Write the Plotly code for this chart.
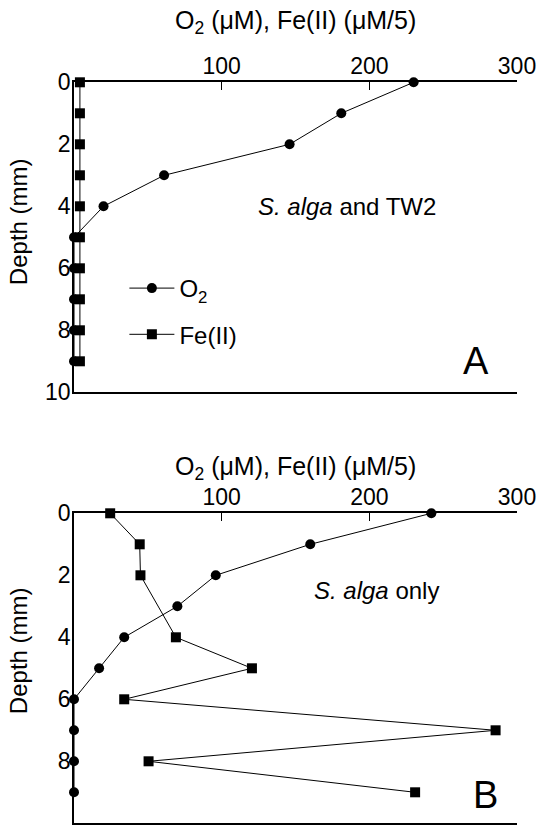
import plotly.graph_objects as go

# ---- data ----
depth = [0, 1, 2, 3, 4, 5, 6, 7, 8, 9]
o2_a = [230, 181, 146, 61, 20, 0, 0, 0, 0, 0]
fe_a = [4, 4, 4, 4, 4, 4, 4, 4, 4, 4]
o2_b = [242, 160, 96, 70, 34, 17, 0, 0, 0, 0]
fe_b_depth = [0, 1, 2, 4, 5, 6, 7, 8, 9]
fe_b = [24.5, 44.5, 45, 69, 120.5, 34, 285.5, 50.5, 231]
x_ticks = [100, 200, 300]
y_ticks = [0, 2, 4, 6, 8, 10]
right_ticks = [2, 4, 6, 8]
x_title = "O<sub>2</sub> (\u03bcM), Fe(II) (\u03bcM/5)"
y_title = "Depth (mm)"
label_a = "<i>S. alga</i> and TW2"
label_b = "<i>S. alga</i> only"

FONT = "Liberation Sans, Arial, sans-serif"
W, H = 540, 833
OFF = 0
def py(win_y):
    return (H - (win_y - OFF)) / H

dom_a = [py(392.3), py(82.3)]
dom_b = [py(823.3), py(513.3)]
L, R = 73.5, 22.5
PW = W - L - R
def px(win_x):
    return (win_x - OFF - L) / PW

fig = go.Figure()
line = dict(color="black", width=1)
circ = dict(symbol="circle", size=10, color="black")
sq = dict(symbol="square", size=10, color="black")

fig.add_trace(go.Scatter(x=o2_a, y=depth, mode="lines+markers", name="O<sub>2</sub>",
                         line=line, marker=circ, xaxis="x", yaxis="y", legendgroup="a",
                         cliponaxis=False))
fig.add_trace(go.Scatter(x=fe_a, y=depth, mode="lines+markers", name="Fe(II)",
                         line=line, marker=sq, xaxis="x", yaxis="y", legendgroup="b",
                         cliponaxis=False))
fig.add_trace(go.Scatter(x=o2_b, y=depth, mode="lines+markers", showlegend=False,
                         line=line, marker=circ, xaxis="x2", yaxis="y2", cliponaxis=False))
fig.add_trace(go.Scatter(x=fe_b, y=fe_b_depth, mode="lines+markers", showlegend=False,
                         line=line, marker=sq, xaxis="x2", yaxis="y2", cliponaxis=False))

def xax(anchor, standoff):
    return dict(range=[0, 300], side="top", anchor=anchor, tickvals=x_ticks,
                ticks="inside", ticklen=8, tickwidth=1, tickcolor="black",
                showline=True, linecolor="black", linewidth=1.5, mirror=True,
                showgrid=False, zeroline=False, automargin=False,
                tickfont=dict(family=FONT, size=23, color="black"),
                ticklabelstandoff=standoff)

def yax(anchor, dom):
    return dict(range=[10, 0], domain=dom, anchor=anchor, tickvals=y_ticks,
                ticks="", showline=True, linecolor="black", linewidth=1.5,
                showgrid=False, zeroline=False, automargin=False,
                tickfont=dict(family=FONT, size=23, color="black"),
                ticklabelstandoff=-3)

def yright(over, anchor):
    return dict(range=[10, 0], overlaying=over, anchor=anchor, side="right",
                tickvals=right_ticks, ticks="inside", ticklen=8, tickwidth=1,
                tickcolor="black", showticklabels=False, showline=True,
                linecolor="black", linewidth=1, showgrid=False, zeroline=False,
                automargin=False)

fig.update_layout(
    width=W, height=H, template="none",
    paper_bgcolor="white", plot_bgcolor="white",
    margin=dict(l=L, r=R, t=0, b=0),
    font=dict(family=FONT, size=24, color="black"),
    xaxis=xax("y", -3), yaxis=yax("x", dom_a),
    xaxis2=xax("y2", -3), yaxis2=yax("x2", dom_b),
    yaxis3=yright("y", "x"), yaxis4=yright("y2", "x2"),
    showlegend=True,
    legend=dict(x=px(124), y=py(266), xanchor="left", yanchor="top",
                bgcolor="rgba(0,0,0,0)", font=dict(family=FONT, size=24),
                traceorder="grouped", tracegroupgap=12, itemwidth=45),
)

ann = [
    dict(text=x_title, x=0.5, y=py(22.5), xref="paper", yref="paper",
         showarrow=False, font=dict(size=25), yanchor="middle"),
    dict(text=x_title, x=0.5, y=py(467.5), xref="paper", yref="paper",
         showarrow=False, font=dict(size=25), yanchor="middle"),
    dict(text=y_title, x=px(17.5), y=py(222), xref="paper", yref="paper",
         xanchor="center", yanchor="middle",
         showarrow=False, textangle=-90, font=dict(size=24)),
    dict(text=y_title, x=px(17.5), y=py(651), xref="paper", yref="paper",
         xanchor="center", yanchor="middle",
         showarrow=False, textangle=-90, font=dict(size=24)),
    dict(text=label_a, x=185, y=4, xref="x", yref="y", showarrow=False, font=dict(size=24)),
    dict(text="A", x=272.5, y=9, xref="x", yref="y", showarrow=False, font=dict(size=38)),
    dict(text=label_b, x=205, y=2.5, xref="x2", yref="y2", showarrow=False, font=dict(size=24)),
    dict(text="B", x=279, y=9.08, xref="x2", yref="y2", showarrow=False, font=dict(size=38)),
]
fig.update_layout(annotations=ann)

# remove the default 8px page margin so the figure sits at the window's corner
fig.write_html("out.html", config={"displayModeBar": False},
               post_script="document.body.style.margin='0';")
